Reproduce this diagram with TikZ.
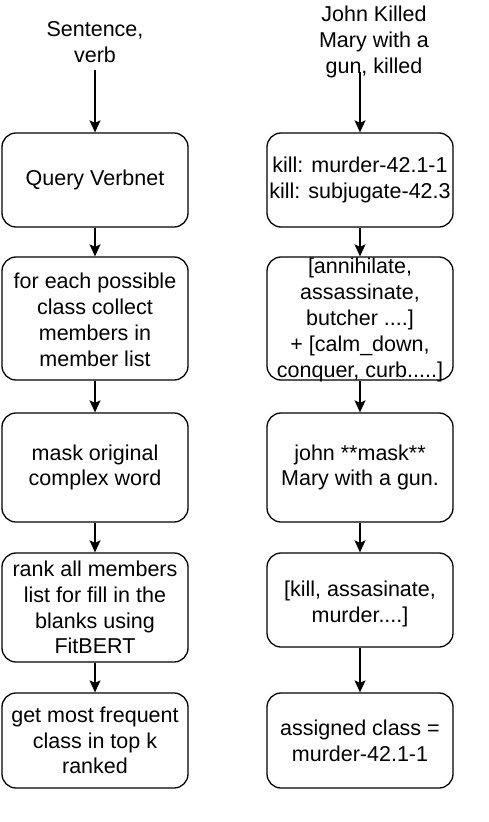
\documentclass[tikz,border=0pt]{standalone}
\usepackage{fontspec}
\setmainfont{Liberation Sans}
\usetikzlibrary{arrows.meta}
\tikzset{
  box/.style={draw, rounded corners=14pt, line width=1.3pt, minimum width=186pt, inner sep=0pt},
  txt/.style={align=center, font=\fontsize{21.5}{25.8}\selectfont, inner sep=0pt},
  conn/.style={line width=1.3pt, -{Stealth[length=12pt,width=11pt,inset=2.5pt]}}
}
\begin{document}
\begin{tikzpicture}[x=1pt,y=-1pt]
\useasboundingbox[fill=white] (0,0) rectangle (488,822);

% left column
\node[txt] (s1) at (95,42) {Sentence,\\verb};
\coordinate (s1end) at (95,70);
\node[box, minimum height=94pt]  (L1) at (95,180) {};
\node[txt] (L1t) at (L1.center) {Query Verbnet};
\node[box, minimum height=123pt] (L2) at (95,318.5) {};
\node[txt] (L2t) at (95,320) {for each possible\\class collect\\members in\\member list};
\node[box, minimum height=109pt] (L3) at (95,467.5) {};
\node[txt] (L3t) at (L3.center) {mask original\\complex word};
\node[box, minimum height=109pt] (L4) at (95,607.5) {};
\node[txt] (L4t) at (L4.center) {rank all members\\list for fill in the\\blanks using\\FitBERT};
\node[box, minimum height=95pt]  (L5) at (95,740.5) {};
\node[txt] (L5t) at (L5.center) {get most frequent\\class in top k\\ranked};

\draw[conn] (s1end) -- (L1.north);
\draw[conn] (L1.south) -- (L2.north);
\draw[conn] (L2.south) -- (L3.north);
\draw[conn] (L3.south) -- (L4.north);
\draw[conn] (L4.south) -- (L5.north);

% right column
\node[txt] (r0) at (374,42) {John Killed\\Mary with a\\gun, killed};
\coordinate (r0end) at (360,72);
\node[box, minimum height=94pt]  (R1) at (360,180) {};
\node[txt] (R1t) at (R1.center) {kill: murder-42.1-1\\kill: subjugate-42.3};
\node[box, minimum height=123pt] (R2) at (360,318.5) {};
\node[txt] (R2t) at (360,320) {[annihilate,\\assassinate,\\butcher ....]\\+ [calm\_down,\\conquer, curb.....]};
\node[box, minimum height=109pt] (R3) at (360,467.5) {};
\node[txt] (R3t) at (R3.center) {john **mask**\\Mary with a gun.};
\node[box, minimum height=94pt]  (R4) at (360,600) {};
\node[txt] (R4t) at (360,604) {[kill, assasinate,\\murder....]};
\node[box, minimum height=95pt]  (R5) at (360,740.5) {};
\node[txt] (R5t) at (R5.center) {assigned class =\\murder-42.1-1};

\draw[conn] (r0end) -- (R1.north);
\draw[conn] (R1.south) -- (R2.north);
\draw[conn] (R2.south) -- (R3.north);
\draw[conn] (R3.south) -- (R4.north);
\draw[conn] (R4.south) -- (R5.north);
\end{tikzpicture}
\end{document}
